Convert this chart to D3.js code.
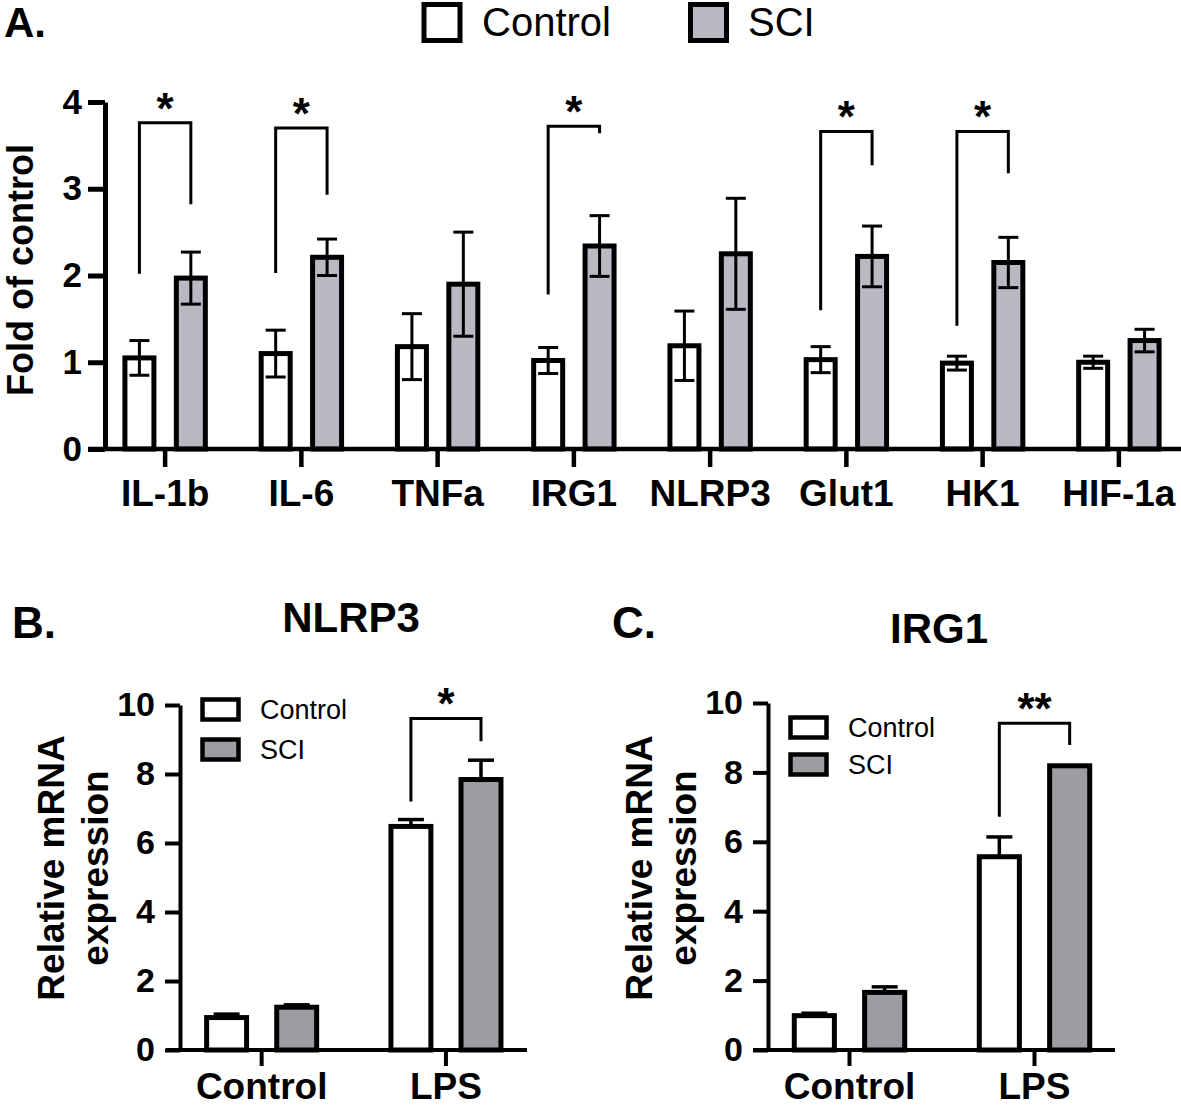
<!DOCTYPE html>
<html>
<head>
<meta charset="utf-8">
<script src="https://d3js.org/d3.v7.min.js"></script>
<style>
  body { margin: 0; background: #fff; }
  text { font-family: "Liberation Sans", Arial, sans-serif; }
</style>
</head>
<body>
<script>
// ---------- data: panel A (fold of control) ----------
const genes = ["IL-1b", "IL-6", "TNFa", "IRG1", "NLRP3", "Glut1", "HK1", "HIF-1a"];
const series = ["Control", "SCI"];
const ctrlMean = [1.05, 1.10, 1.18, 1.02, 1.19, 1.03, 0.99, 1.00];
const ctrlSem  = [0.20, 0.27, 0.38, 0.15, 0.40, 0.15, 0.08, 0.07];
const sciMean  = [1.97, 2.21, 1.90, 2.34, 2.25, 2.22, 2.15, 1.25];
const sciSem   = [0.30, 0.21, 0.60, 0.35, 0.64, 0.35, 0.29, 0.13];
// significance brackets (data units)
const sigGenes    = ["IL-1b", "IL-6", "IRG1", "Glut1", "HK1"];
const sigTop      = [3.76, 3.70, 3.72, 3.66, 3.66];
const sigLeftEnd  = [2.02, 2.03, 1.78, 1.60, 1.42];
const sigRightEnd = [2.82, 2.93, 3.64, 3.27, 3.18];

// ---------- data: panels B and C (relative mRNA) ----------
const treatments = ["Control", "LPS"];
const nlrp3Ctrl    = [0.94, 6.48];
const nlrp3CtrlSem = [0.10, 0.20];
const nlrp3Sci     = [1.24, 7.84];
const nlrp3SciSem  = [0.07, 0.56];
const irg1Ctrl     = [0.99, 5.57];
const irg1CtrlSem  = [0.07, 0.57];
const irg1Sci      = [1.66, 8.19];
const irg1SciSem   = [0.16, 0.00];

const width = 1181, height = 1107;
const svg = d3.select('body').append('svg')
    .attr('width', width)
    .attr('height', height);

function styleAxis(g, lineW, fontSize) {
  g.attr('font-family', null).attr('font-size', null);
  g.selectAll('path, line').attr('stroke', '#000').attr('stroke-width', lineW);
  g.selectAll('text')
    .attr('fill', '#000')
    .style('font-size', fontSize + 'px')
    .style('font-weight', 'bold');
}

// ================= Panel A =================
const yA = d3.scaleLinear().domain([0, 4]).range([449, 102]);
const xA = d3.scaleBand().domain(genes).range([97, 1187]);
const subA = d3.scaleBand().domain(series)
    .range([0, xA.bandwidth()])
    .paddingInner(0.436).paddingOuter(0.543);

const rowsA = genes.flatMap((g, i) => [
  { gene: g, s: "Control", mean: ctrlMean[i], sem: ctrlSem[i] },
  { gene: g, s: "SCI", mean: sciMean[i], sem: sciSem[i] }
]);
const cx = d => xA(d.gene) + subA(d.s) + subA.bandwidth() / 2;

const gA = svg.append('g');

gA.selectAll('.barA')
  .data(rowsA)
  .enter().append('rect')
  .attr('class', 'barA')
  .attr('x', d => xA(d.gene) + subA(d.s))
  .attr('width', subA.bandwidth())
  .attr('y', d => yA(d.mean))
  .attr('height', d => yA(0) - yA(d.mean))
  .attr('fill', d => d.s === "SCI" ? '#b9bac1' : '#fff')
  .attr('stroke', '#000')
  .attr('stroke-width', 5);

// error bars (both directions)
const errA = gA.selectAll('.errA').data(rowsA).enter().append('g').attr('class', 'errA')
  .attr('stroke', '#000').attr('stroke-width', 3);
errA.append('line')
  .attr('x1', cx).attr('x2', cx)
  .attr('y1', d => yA(d.mean - d.sem)).attr('y2', d => yA(d.mean + d.sem));
errA.append('line')
  .attr('x1', d => cx(d) - 10).attr('x2', d => cx(d) + 10)
  .attr('y1', d => yA(d.mean + d.sem)).attr('y2', d => yA(d.mean + d.sem));
errA.append('line')
  .attr('x1', d => cx(d) - 10).attr('x2', d => cx(d) + 10)
  .attr('y1', d => yA(d.mean - d.sem)).attr('y2', d => yA(d.mean - d.sem));

// axes
const yAxisA = gA.append('g').attr('transform', 'translate(105,0)')
  .call(d3.axisLeft(yA).ticks(4).tickSize(17).tickSizeOuter(0).tickPadding(6));
styleAxis(yAxisA, 5, 35);

const xAxisA = gA.append('g').attr('transform', `translate(0,${yA(0)})`)
  .call(d3.axisBottom(xA).tickSize(18).tickSizeOuter(0).tickPadding(13));
xAxisA.select('.domain').remove();
styleAxis(xAxisA, 4.5, 37);
gA.append('line')
  .attr('x1', 88).attr('x2', 1181)
  .attr('y1', yA(0)).attr('y2', yA(0))
  .attr('stroke', '#000').attr('stroke-width', 4.5);

gA.append('text')
  .attr('transform', 'translate(33,270) rotate(-90)')
  .attr('text-anchor', 'middle')
  .style('font-size', '36px').style('font-weight', 'bold')
  .text('Fold of control');

// significance brackets
const sigRows = sigGenes.map((g, i) => ({
  xl: xA(g) + subA("Control") + subA.bandwidth() / 2,
  xr: xA(g) + subA("SCI") + subA.bandwidth() / 2,
  top: sigTop[i], l: sigLeftEnd[i], r: sigRightEnd[i]
}));
gA.selectAll('.sigA').data(sigRows).enter().append('path')
  .attr('class', 'sigA')
  .attr('d', d => `M${d.xl},${yA(d.l)}V${yA(d.top)}H${d.xr}V${yA(d.r)}`)
  .attr('fill', 'none').attr('stroke', '#000').attr('stroke-width', 3);
gA.selectAll('.starA').data(sigRows).enter().append('text')
  .attr('x', d => (d.xl + d.xr) / 2)
  .attr('y', d => yA(d.top) + 1)
  .attr('text-anchor', 'middle')
  .style('font-size', '44px').style('font-weight', 'bold')
  .text('*');

// legend A
const legA = gA.append('g');
[{ s: "Control", x: 424, tx: 482 }, { s: "SCI", x: 690.5, tx: 748 }].forEach(l => {
  legA.append('rect')
    .attr('x', l.x).attr('y', 4.5).attr('width', 36).attr('height', 36)
    .attr('fill', l.s === "SCI" ? '#b9bac1' : '#fff')
    .attr('stroke', '#000').attr('stroke-width', 5);
  legA.append('text')
    .attr('x', l.tx).attr('y', 36)
    .style('font-size', '40px')
    .text(l.s);
});

svg.append('text').attr('x', 4).attr('y', 37)
  .style('font-size', '42px').style('font-weight', 'bold').text('A.');

// ================= Panels B and C =================
function drawPanel(cfg) {
  const g = svg.append('g');
  const y = d3.scaleLinear().domain([0, 10]).range([cfg.y0, cfg.y10]);
  const x = d3.scaleBand().domain(treatments).range(cfg.groupRange);
  const sub = d3.scaleBand().domain(series)
      .range([0, x.bandwidth()])
      .paddingInner(0.43).paddingOuter(0.53);

  const rows = treatments.flatMap((t, i) => [
    { t: t, s: "Control", mean: cfg.ctrl[i], sem: cfg.ctrlSem[i] },
    { t: t, s: "SCI", mean: cfg.sci[i], sem: cfg.sciSem[i] }
  ]);
  const bx = d => x(d.t) + sub(d.s) + sub.bandwidth() / 2;

  g.selectAll('.bar').data(rows).enter().append('rect')
    .attr('x', d => x(d.t) + sub(d.s))
    .attr('width', sub.bandwidth())
    .attr('y', d => y(d.mean))
    .attr('height', d => y(0) - y(d.mean))
    .attr('fill', d => d.s === "SCI" ? '#9c9ca1' : '#fff')
    .attr('stroke', '#000').attr('stroke-width', 5);

  // upper error bars only
  const err = g.selectAll('.err').data(rows.filter(d => d.sem > 0)).enter().append('g')
    .attr('stroke', '#000').attr('stroke-width', 3.5);
  err.append('line')
    .attr('x1', bx).attr('x2', bx)
    .attr('y1', d => y(d.mean)).attr('y2', d => y(d.mean + d.sem));
  err.append('line')
    .attr('x1', d => bx(d) - 13).attr('x2', d => bx(d) + 13)
    .attr('y1', d => y(d.mean + d.sem)).attr('y2', d => y(d.mean + d.sem));

  const yAxis = g.append('g').attr('transform', `translate(${cfg.yAxisX},0)`)
    .call(d3.axisLeft(y).tickValues([0, 2, 4, 6, 8, 10]).tickSize(15).tickSizeOuter(0).tickPadding(10));
  styleAxis(yAxis, 4, 34);

  const xAxis = g.append('g').attr('transform', `translate(0,${cfg.y0})`)
    .call(d3.axisBottom(x).tickSize(16).tickSizeOuter(0).tickPadding(7));
  xAxis.select('.domain').remove();
  styleAxis(xAxis, 4, 37);
  g.append('line')
    .attr('x1', cfg.xStart).attr('x2', cfg.xEnd)
    .attr('y1', cfg.y0).attr('y2', cfg.y0)
    .attr('stroke', '#000').attr('stroke-width', 4);

  // y title, two lines
  const ym = cfg.y0 - 182;
  [["Relative mRNA", 116], ["expression", 72]].forEach(([txt, off]) => {
    g.append('text')
      .attr('transform', `translate(${cfg.yAxisX - off},${ym}) rotate(-90)`)
      .attr('text-anchor', 'middle')
      .style('font-size', '37px').style('font-weight', 'bold')
      .text(txt);
  });

  // significance bracket on LPS
  const xl = x("LPS") + sub("Control") + sub.bandwidth() / 2;
  const xr = x("LPS") + sub("SCI") + sub.bandwidth() / 2;
  g.append('path')
    .attr('d', `M${xl},${y(cfg.sig.left)}V${y(cfg.sig.top)}H${xr}V${y(cfg.sig.right)}`)
    .attr('fill', 'none').attr('stroke', '#000').attr('stroke-width', 3);
  g.append('text')
    .attr('x', (xl + xr) / 2).attr('y', y(cfg.sig.top) + 1)
    .attr('text-anchor', 'middle')
    .style('font-size', '44px').style('font-weight', 'bold')
    .text(cfg.sig.text);

  // legend
  series.forEach((s, i) => {
    g.append('rect')
      .attr('x', cfg.legX + 2.5).attr('y', cfg.legY[i] + 2.5)
      .attr('width', 36).attr('height', 20)
      .attr('fill', s === "SCI" ? '#9c9ca1' : '#fff')
      .attr('stroke', '#000').attr('stroke-width', 4.5);
    g.append('text')
      .attr('x', cfg.legX + 60).attr('y', cfg.legY[i] + 22)
      .style('font-size', '27px')
      .text(s);
  });

  // panel letter and title
  svg.append('text').attr('x', cfg.letterX).attr('y', 638)
    .style('font-size', '44px').style('font-weight', 'bold').text(cfg.letter);
  svg.append('text').attr('x', cfg.titleX).attr('y', cfg.titleY)
    .attr('text-anchor', 'middle')
    .style('font-size', '42px').style('font-weight', 'bold').text(cfg.title);
}

drawPanel({
  letter: "B.", letterX: 12, title: "NLRP3", titleX: 351, titleY: 632,
  y0: 1050, y10: 705, yAxisX: 180, xStart: 166, xEnd: 527,
  groupRange: [169.5, 538.1],
  ctrl: nlrp3Ctrl, ctrlSem: nlrp3CtrlSem, sci: nlrp3Sci, sciSem: nlrp3SciSem,
  sig: { top: 9.61, left: 7.20, right: 8.95, text: "*" },
  legX: 200, legY: [697, 737]
});

drawPanel({
  letter: "C.", letterX: 612, title: "IRG1", titleX: 939, titleY: 643,
  y0: 1050, y10: 703, yAxisX: 768, xStart: 753, xEnd: 1115,
  groupRange: [757, 1127],
  ctrl: irg1Ctrl, ctrlSem: irg1CtrlSem, sci: irg1Sci, sciSem: irg1SciSem,
  sig: { top: 9.42, left: 6.72, right: 8.79, text: "**" },
  legX: 788, legY: [715, 752]
});
</script>
</body>
</html>
